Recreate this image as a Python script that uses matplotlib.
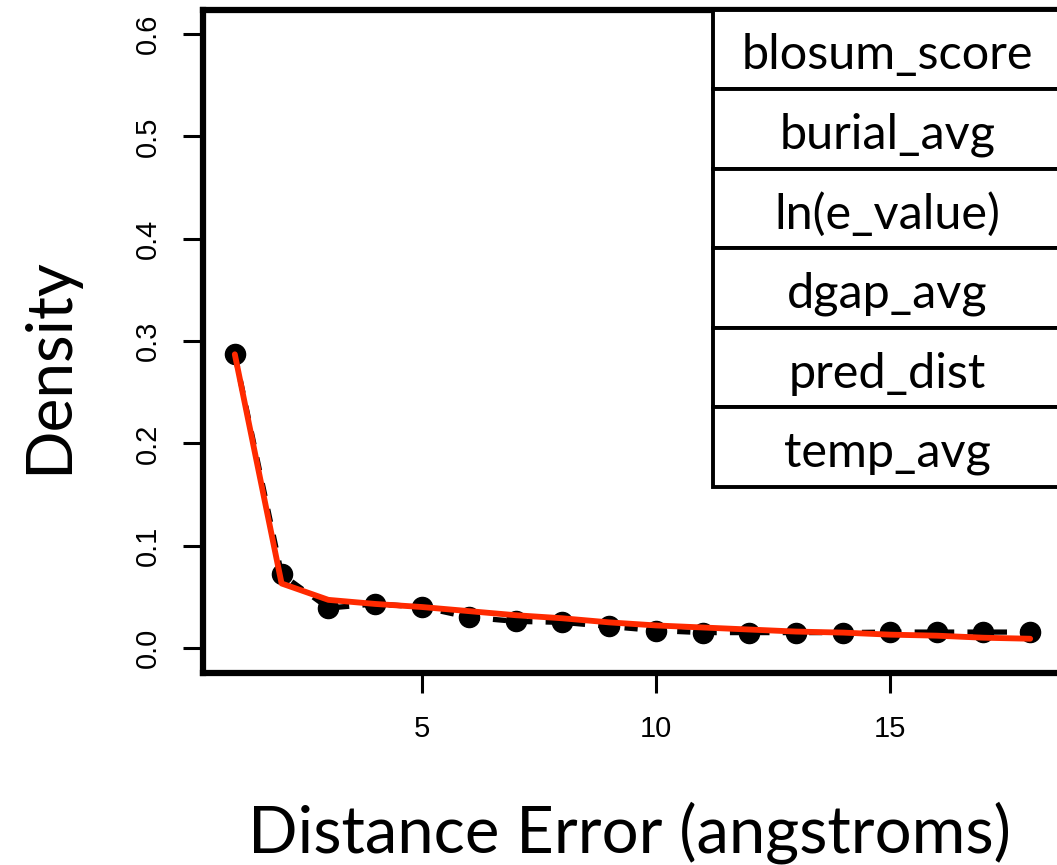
import matplotlib
matplotlib.use("Agg")
import matplotlib.pyplot as plt
import matplotlib.transforms as mtransforms
import numpy as np

# observed density per distance-error bin (black points)
dist = np.arange(1, 19)
density = [0.287, 0.072, 0.039, 0.043, 0.040, 0.030, 0.026, 0.025, 0.021,
           0.017, 0.015, 0.015, 0.015, 0.015, 0.0155, 0.0155, 0.0155, 0.0155]
# fitted curve (red)
fitted = [0.287, 0.063, 0.047, 0.043, 0.040, 0.036, 0.032, 0.029, 0.025,
          0.022, 0.020, 0.018, 0.016, 0.015, 0.013, 0.012, 0.010, 0.009]
features = ["blosum_score", "burial_avg", "ln(e_value)",
            "dgap_avg", "pred_dist", "temp_avg"]

W, H = 1057, 865
fig = plt.figure(figsize=(W / 100, H / 100), dpi=100)
# plot region runs past the right edge of the picture, as in the original
ax = fig.add_axes([203 / W, (H - 672.5) / H, 859 / W, 663 / H])

ax.plot(dist, density, color="black", lw=3.8, dashes=(2.5, 2.5), zorder=2)
ax.plot(dist, density, "o", color="black", ms=14.5, zorder=3)
ax.plot(dist, fitted, color="#ff2a00", lw=4.2, solid_capstyle="round", zorder=4)

ax.set_xlim(0.32, 18.68)
ax.set_ylim(-0.024, 0.624)
ax.set_xticks([5, 10, 15])
ax.set_yticks(np.arange(0, 0.61, 0.1))
ax.set_yticklabels(["%.1f" % v for v in np.arange(0, 0.61, 0.1)])

for s in ax.spines.values():
    s.set_linewidth(4.5)
ax.tick_params(direction="out", length=14.5, width=2.2, labelsize=21)
ax.tick_params(axis="x", pad=16)
ax.tick_params(axis="y", pad=15, labelrotation=90)
for lab in ax.get_xticklabels() + ax.get_yticklabels():
    lab.set_fontfamily("Liberation Sans")
for lab in ax.get_yticklabels():
    lab.set_va("center")

# feature legend as a one-column table in the top right
tab = ax.table(cellText=[[f] for f in features], cellLoc="center",
               bbox=[0.5937, 0.2798, 0.4063, 0.7202], zorder=5)
tab.auto_set_font_size(False)
shift = mtransforms.Affine2D().translate(0, -6)
for cell in tab.get_celld().values():
    cell.set_linewidth(2.8)
    cell.set_edgecolor("black")
    txt = cell.get_text()
    txt.set_fontfamily("Lato")
    txt.set_fontsize(35)
    txt.set_transform(shift)

fig.text(629 / W, 1 - 852 / H, "Distance Error (angstroms)", ha="center",
         va="baseline", fontsize=47, family="Lato")
fig.text(67 / W, 1 - 366 / H, "Density", ha="center", va="baseline",
         rotation=90, fontsize=46, family="Lato", rotation_mode="anchor")

fig.savefig("out.png", dpi=100)
